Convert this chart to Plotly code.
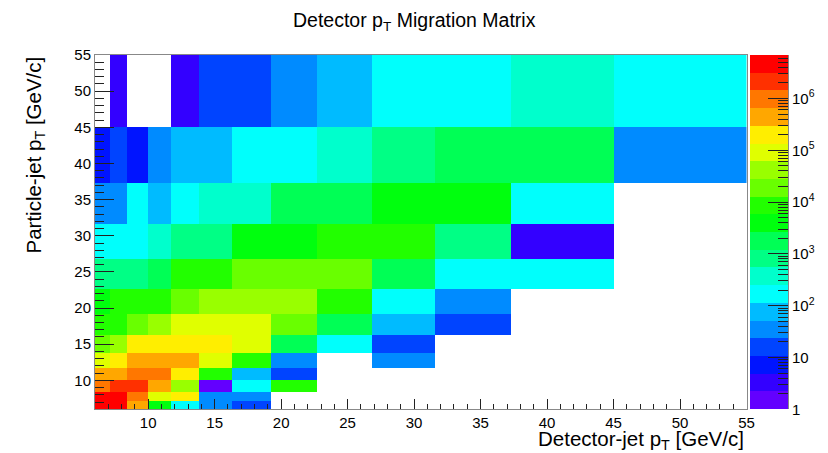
import colorsys
import numpy as np
import plotly.graph_objects as go

# Jet-pT bin edges (GeV/c), shared by detector level (x) and particle level (y)
pt_edges = [6, 7.1, 8.4, 10, 11.7, 13.8, 16.3, 19.2, 22.7, 26.8, 31.6, 37.3, 45, 55]

# Entries per cell: one row per particle-jet bin (low -> high),
# one column per detector-jet bin (low -> high); None = empty cell
counts = [
    [5.2e6, 4.1e6, 4.6e5, 4.2e3, 160, 38, 14, None, None, None, None, None, None],
    [4.4e6, 3.6e6, 9.0e5, 8.8e4, 2.1e5, 30, 42, None, None, None, None, None, None],
    [1.1e6, 2.4e6, 1.9e6, 4.8e5, 4.0e4, 1.6, 190, 9.2e3, None, None, None, None, None],
    [4.1e5, 3.8e5, 8.6e5, 1.0e6, 1.8e5, 7.9e3, 82, 13, None, None, None, None, None],
    [1.0e5, 2.3e5, 4.7e5, 5.2e5, 3.9e5, 8.4e4, 8.0e3, 31, None, 44, None, None, None],
    [1.7e4, 3.6e4, 1.9e5, 2.2e5, 2.1e5, 1.6e5, 9.6e4, 1.7e3, 150, 14, None, None, None],
    [7.6e3, 9.4e3, 2.2e4, 4.5e4, 8.1e4, 9.9e4, 7.2e4, 1.6e4, 1.9e3, 70, 17, None, None],
    [4.4e3, 7.1e3, 9.8e3, 1.1e4, 2.0e4, 4.6e4, 5.3e4, 3.8e4, 6.9e3, 180, 29, None, None],
    [740, 900, 1.0e3, 1.9e3, 7.8e3, 9.5e3, 1.7e4, 2.1e4, 1.5e4, 1.5e3, 200, 160, None],
    [150, 190, 210, 420, 760, 960, 4.9e3, 5.3e3, 7.4e3, 6.6e3, 870, 3.4, None],
    [40, 33, 140, 88, 220, 330, 410, 1.6e3, 2.2e3, 4.4e3, 3.6e3, 190, None],
    [8, 19, 6, 45, 70, 95, 130, 200, 380, 640, 1.4e3, 1.6e3, 42],
    [None, 3.4, None, None, 2.8, 14, 18, 36, 80, 160, 230, 420, 190],
]

# z-axis (log scale) limits and number of contour levels
z_min = 1.0
z_max = 6.9e6
n_levels = 20

# Colour-bar tick labels (decades)
z_decades = [0, 1, 2, 3, 4, 5, 6]
z_decade_text = ["1", "10", "10<sup>2</sup>", "10<sup>3</sup>",
                 "10<sup>4</sup>", "10<sup>5</sup>", "10<sup>6</sup>"]

W, H = 828, 453
FONT = "Liberation Sans, Arial, Helvetica, sans-serif"

# ---- 50-colour "pretty" rainbow palette, sampled at 20 contour levels ----
n_pal = 50
palette = []
for i in range(n_pal):
    hue = 280.0 - (i + 1) * (280.0 / n_pal)
    r, g, b = colorsys.hls_to_rgb(max(hue, 0) / 360.0, 0.5, 1.0)
    palette.append(f"rgb({round(r*255)},{round(g*255)},{round(b*255)})")
palette[-1] = "rgb(255,0,0)"

colorscale = []
for k in range(n_levels):
    c = palette[int((k + 0.99) * n_pal / n_levels)]
    colorscale.append([k / n_levels, c])
    colorscale.append([(k + 1) / n_levels, c])

lz_min, lz_max = np.log10(z_min), np.log10(z_max)
z_log = np.array([[np.nan if v is None else np.log10(v) for v in row] for row in counts])

# palette strip: one cell per contour level
lvl_edges = np.linspace(lz_min, lz_max, n_levels + 1)
lvl_mid = 0.5 * (lvl_edges[:-1] + lvl_edges[1:])

fig = go.Figure()
fig.add_trace(go.Heatmap(
    x=pt_edges, y=pt_edges, z=z_log,
    zmin=lz_min, zmax=lz_max, colorscale=colorscale,
    showscale=False, hoverongaps=False,
    xaxis="x", yaxis="y",
))
fig.add_trace(go.Heatmap(
    x=[0, 1], y=lvl_edges, z=[[v] for v in lvl_mid],
    zmin=lz_min, zmax=lz_max, colorscale=colorscale,
    showscale=False, hoverinfo="skip",
    xaxis="x2", yaxis="y2",
))

minor_vals = [np.log10(m * 10 ** d) for d in range(0, 7) for m in range(2, 10)
              if np.log10(m * 10 ** d) < lz_max]

x0, x1 = 95 / W, 746.5 / W
y0, y1 = 1 - 409.3 / H, 1 - 55 / H

axis_common = dict(
    showgrid=False, zeroline=False, showline=True, linecolor="#888", linewidth=1,
    mirror=True, ticks="inside", tickcolor="#222", tickwidth=1, automargin=False,
    tickfont=dict(family=FONT, size=15, color="black"),
)
fig.update_layout(
    width=W, height=H, margin=dict(l=0, r=0, t=0, b=0, autoexpand=False),
    paper_bgcolor="white", plot_bgcolor="white", showlegend=False,
    xaxis=dict(domain=[x0, x1], range=[6, 55], tickmode="array",
               tickvals=list(range(10, 56, 5)), ticklen=10,
               minor=dict(tickmode="linear", tick0=6, dtick=1, ticks="inside",
                          ticklen=5, tickcolor="#222"),
               anchor="y", **axis_common),
    yaxis=dict(domain=[y0, y1], range=[6, 55], tickmode="array",
               tickvals=list(range(10, 56, 5)), ticklen=19,
               minor=dict(tickmode="linear", tick0=6, dtick=1, ticks="inside",
                          ticklen=9, tickcolor="#222"),
               anchor="x", **axis_common),
    xaxis2=dict(domain=[750 / W, 788 / W], range=[0, 1], visible=False,
                anchor="y2", automargin=False),
    yaxis2=dict(domain=[y0, y1], range=[lz_min, lz_max], anchor="x2", side="right",
                showgrid=False, zeroline=False, showline=True, linecolor="#888",
                ticks="inside", ticklen=20, tickcolor="#222", tickmode="array",
                tickvals=z_decades, ticktext=z_decade_text, automargin=False,
                tickfont=dict(family=FONT, size=15, color="black"),
                minor=dict(tickmode="array", tickvals=minor_vals, ticks="inside",
                           ticklen=10, tickcolor="#222")),
)

fig.add_annotation(text="Detector p<sub>T</sub> Migration Matrix",
                   x=414 / W, y=1 - 21 / H, xref="paper", yref="paper",
                   xanchor="center", yanchor="middle", showarrow=False,
                   font=dict(family=FONT, size=19.5, color="black"))
fig.add_annotation(text="Detector-jet p<sub>T</sub> [GeV/c]",
                   x=746 / W, y=1 - 440 / H, xref="paper", yref="paper",
                   xanchor="right", yanchor="middle", showarrow=False,
                   font=dict(family=FONT, size=20.5, color="black"))
fig.add_annotation(text="Particle-jet p<sub>T</sub> [GeV/c]",
                   x=35 / W, y=1 - 55 / H, xref="paper", yref="paper",
                   xanchor="center", yanchor="top", textangle=-90, showarrow=False,
                   font=dict(family=FONT, size=20.5, color="black"))

fig.write_html("out.html")
